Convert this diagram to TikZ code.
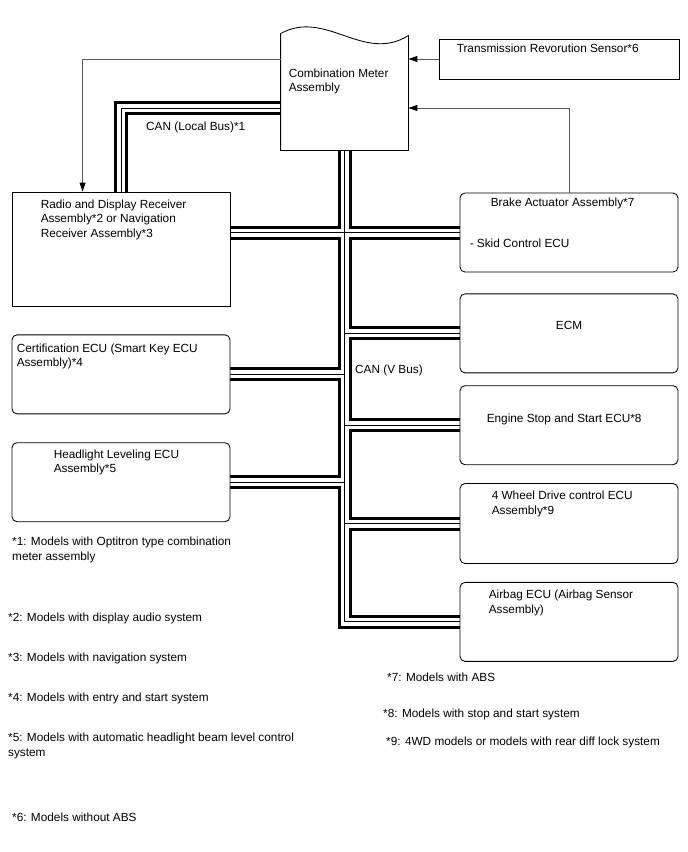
\documentclass[tikz,border=0pt]{standalone}
\usepackage{fontspec}
\setmainfont{Liberation Sans}
\usetikzlibrary{arrows.meta,positioning,calc,backgrounds}
\definecolor{wire}{HTML}{5A5A5A}

\begin{document}
\begin{tikzpicture}[
  x=1pt, y=-1pt,
  txt/.style={inner sep=0pt,align=left,font=\fontsize{11.8}{14.5}\selectfont},
  boxunit/.style={rectangle,draw,line width=0.85pt,fill=white,minimum width=218pt,minimum height=79pt,inner sep=0pt},
  ecu/.style={boxunit,rounded corners=5pt},
  busouter/.style={line width=14pt,black,line join=miter},
  businner/.style={line width=8pt,white,line join=miter},
  buscore/.style={line width=0.9pt,black,line join=miter},
  sig/.style={draw=wire,line width=0.9pt,-{Triangle[length=9pt,width=6pt,color=black]}}
]
\useasboundingbox (0,0) rectangle (688,852);
% combination meter (wavy top)
\node[boxunit,draw=none,fill=none,minimum width=127pt,minimum height=116pt] (meter) at (344.5,92) {};
\draw[line width=0.85pt] (meter.north west) .. controls +(45,-25) and +(-45,28) .. ($(meter.north east)+(0,2)$)
  -- (meter.south east) -- (meter.south west) -- cycle;
\node[txt,below right=35pt and 8pt of meter.north west] (metertxt) {Combination Meter\\Assembly};
\node[boxunit,minimum width=240pt,minimum height=40pt] (sensor) at (559,59) {};
\node[txt,below right=5pt and 18pt of sensor.north west] (sensortxt) {Transmission Revorution Sensor*6};
% left column
\node[boxunit,minimum height=114pt] (radio) at (121,249) {};
\node[txt,below right=8pt and 29pt of radio.north west] (radiotxt) {Radio and Display Receiver\\Assembly*2 or Navigation\\Receiver Assembly*3};
\node[ecu,below=28pt of radio] (cert) {};
\node[txt,below right=9pt and 5pt of cert.north west] (certtxt) {Certification ECU (Smart Key ECU\\Assembly)*4};
\node[ecu,below=28pt of cert] (hdl) {};
\node[txt,below right=7pt and 42pt of hdl.north west] (hdltxt) {Headlight Leveling ECU\\Assembly*5};
% right column
\node[ecu] (brake) at (569,232.5) {};
\node[txt,below right=5pt and 31pt of brake.north west] (braketxt) {Brake Actuator Assembly*7};
\node[txt,below right=46pt and 10pt of brake.north west] (skidtxt) {- Skid Control ECU};
\node[ecu,below=21pt of brake] (ecm) {};
\node[txt,below=28pt of ecm.north] (ecmtxt) {ECM};
\node[ecu,below=12pt of ecm] (engine) {};
\node[txt,below right=28pt and 27pt of engine.north west] (enginetxt) {Engine Stop and Start ECU*8};
\node[ecu,below=18pt of engine,minimum height=80pt] (fwd) {};
\node[txt,below right=8pt and 32pt of fwd.north west] (fwdtxt) {4 Wheel Drive control ECU\\Assembly*9};
\node[ecu,below=18pt of fwd] (airbag) {};
\node[txt,below right=8pt and 29pt of airbag.north west] (airbagtxt) {Airbag ECU (Airbag Sensor\\Assembly)};
% bus labels
\node[txt,anchor=north west] (localcan) at (146,122) {CAN (Local Bus)*1};
\node[txt,anchor=north west] (vcan) at (355,365) {CAN (V Bus)};
% notes
\node[txt,anchor=north west] (note1) at (12,537) {*1: Models with Optitron type combination\\meter assembly};
\node[txt,anchor=north west] (note2) at (8,613) {*2: Models with display audio system};
\node[txt,anchor=north west] (note3) at (8,653) {*3: Models with navigation system};
\node[txt,anchor=north west] (note4) at (8,693) {*4: Models with entry and start system};
\node[txt,anchor=north west] (note5) at (8,733) {*5: Models with automatic headlight beam level control\\system};
\node[txt,anchor=north west] (note6) at (12,813) {*6: Models without ABS};
\node[txt,anchor=north west] (note7) at (387,673) {*7: Models with ABS};
\node[txt,anchor=north west] (note8) at (383,709) {*8: Models with stop and start system};
\node[txt,anchor=north west] (note9) at (386,737) {*9: 4WD models or models with rear diff lock system};
% signal lines
\coordinate (lbus) at (121,108);
\draw[sig] (sensor.west) -- (sensor.west -| meter.east);
\draw[sig] (brake.north) |- (meter.east |- lbus);
\draw[sig] (meter.west |- sensor.west) -| ($(radio.north west)+(71,0)$);
% CAN buses
\begin{scope}[on background layer]
\fill[white] (0,0) rectangle (688,852);
\foreach \lay in {busouter,businner,buscore}{
  \draw[\lay] (meter.west |- lbus) -| (radio.north -| lbus);
  \draw[\lay] (meter.south) |- (airbag.west);
  \draw[\lay] (radio.east |- brake.west) -- (brake.west);
  \draw[\lay] (meter.south |- ecm.west) -- (ecm.west);
  \draw[\lay] (cert.east) -- (cert.east -| meter.south);
  \draw[\lay] (meter.south |- engine.west) -- (engine.west);
  \draw[\lay] (hdl.east) -- (hdl.east -| meter.south);
  \draw[\lay] (meter.south |- fwd.west) -- (fwd.west);
}
\end{scope}
\end{tikzpicture}
\end{document}
